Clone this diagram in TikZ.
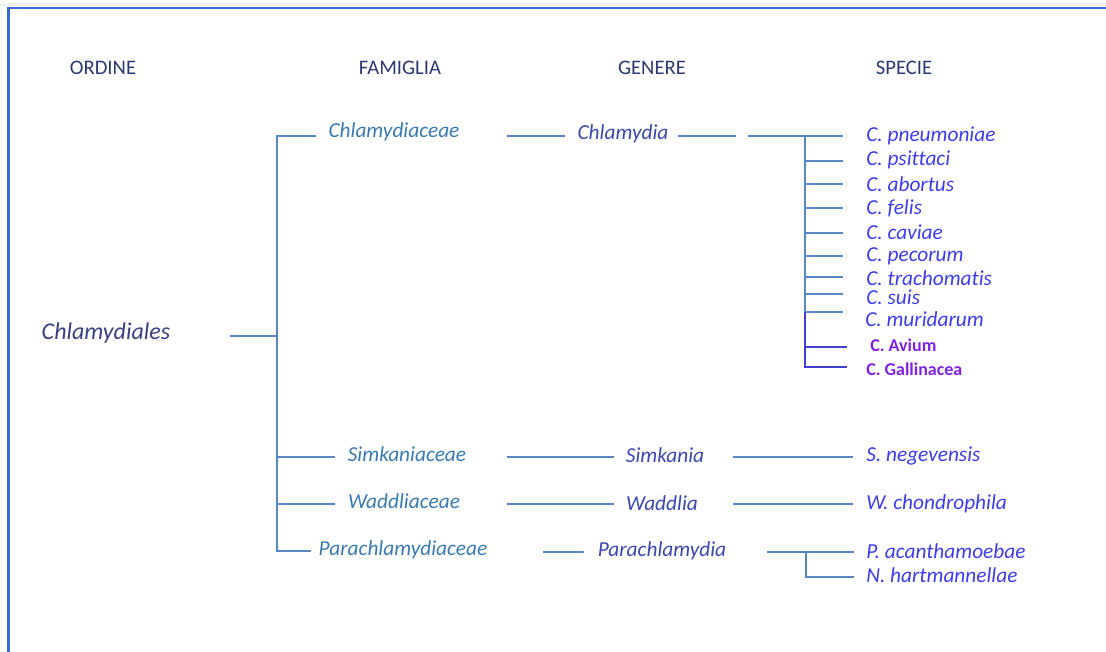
\documentclass[tikz,border=0pt]{standalone}
\usepackage{fontspec}
\setmainfont[Ligatures=NoCommon]{Carlito}
\definecolor{hdr}{HTML}{2E3872}
\definecolor{ordc}{HTML}{3A4080}
\definecolor{famc}{HTML}{3A7AB2}
\definecolor{genc}{HTML}{3A48B0}
\definecolor{spc}{HTML}{3C3CF2}
\definecolor{purc}{HTML}{8020E6}
\definecolor{linec}{HTML}{5A87C0}
\definecolor{bluel}{HTML}{4040D0}
\definecolor{framec}{HTML}{3A6AD8}
\tikzset{
  hdrtext/.style={text=hdr, font=\fontsize{15.5}{17}\selectfont, inner sep=0pt},
  ordtext/.style={text=ordc, font=\fontsize{18}{20}\selectfont\itshape, inner sep=0pt},
  famtext/.style={text=famc, font=\fontsize{16}{18}\selectfont\itshape, inner sep=0pt},
  gentext/.style={text=genc, font=\fontsize{16}{18}\selectfont\itshape, inner sep=0pt},
  sptext/.style={text=spc, font=\fontsize{16}{18}\selectfont\itshape, anchor=west, inner sep=0pt},
  purtext/.style={text=purc, font=\fontsize{13.5}{15}\selectfont\bfseries, anchor=west, inner sep=0pt},
  conn/.style={draw=linec, line width=1.4pt},
  connb/.style={draw=bluel, line width=1.1pt},
}
\begin{document}
\begin{tikzpicture}[x=0.75pt,y=-0.75pt]
\useasboundingbox (0,0) rectangle (1106,652);
% frame
\fill[gray!12] (0,3) rectangle (1106,6.5);
\draw[framec, line width=1.6pt] (8.5,652) -- (8.5,8) -- (1106,8);
% headers
\node[hdrtext] (hOrd) at (103,68) {ORDINE};
\node[hdrtext] (hFam) at (400,68) {FAMIGLIA};
\node[hdrtext] (hGen) at (652,68) {GENERE};
\node[hdrtext] (hSpe) at (904,68) {SPECIE};
% order
\node[ordtext] (ord) at (106,333) {Chlamydiales};
% families
\node[famtext] (f1) at (394,132) {Chlamydiaceae};
\node[famtext] (f2) at (407,454) {Simkaniaceae};
\node[famtext] (f3) at (404,501) {Waddliaceae};
\node[famtext] (f4) at (403,550) {Parachlamydiaceae};
% genera
\node[gentext] (g1) at (623,134) {Chlamydia};
\node[gentext] (g2) at (665,455) {Simkania};
\node[gentext] (g3) at (662,503) {Waddlia};
\node[gentext] (g4) at (662,551) {Parachlamydia};
% species
\node[sptext] (s1) at (866,136) {C. pneumoniae};
\node[sptext] (s2) at (866,160) {C. psittaci};
\node[sptext] (s3) at (866,184) {C. abortus};
\node[sptext] (s4) at (866,208) {C. felis};
\node[sptext] (s5) at (866,232) {C. caviae};
\node[sptext] (s6) at (866,256) {C. pecorum};
\node[sptext] (s7) at (866,278) {C. trachomatis};
\node[sptext] (s8) at (866,297) {C. suis};
\node[sptext] (s9) at (865,319) {C. muridarum};
\node[purtext] (s10) at (870,345) {C. Avium};
\node[purtext] (s11) at (866,369) {C. Gallinacea};
\node[sptext] (s12) at (866,456) {S. negevensis};
\node[sptext] (s13) at (866,504) {W. chondrophila};
\node[sptext] (s14) at (866,551) {P. acanthamoebae};
\node[sptext] (s15) at (866,575) {N. hartmannellae};
% order -> families
\coordinate (oEnd) at (230,336);
\coordinate (tr) at (277,336);
\coordinate (tTop) at (277,136);
\coordinate (tBot) at (277,551);
\coordinate (b1) at (316,136);
\coordinate (b2a) at (277,457); \coordinate (b2) at (335,457);
\coordinate (b3a) at (277,504); \coordinate (b3) at (335,504);
\coordinate (b4) at (311,551);
\draw[conn] (oEnd) -- (tr);
\draw[conn] (b1) -- (tTop) -- (tBot) -- (b4);
\draw[conn] (b2a) -- (b2);
\draw[conn] (b3a) -- (b3);
% family -> genus
\coordinate (c1a) at (507,136); \coordinate (c1b) at (565,136);
\coordinate (c2a) at (507,457); \coordinate (c2b) at (614,457);
\coordinate (c3a) at (507,504); \coordinate (c3b) at (614,504);
\coordinate (c4a) at (543,552); \coordinate (c4b) at (584,552);
\draw[conn] (c1a) -- (c1b);
\draw[conn] (c2a) -- (c2b);
\draw[conn] (c3a) -- (c3b);
\draw[conn] (c4a) -- (c4b);
% genus -> species
\coordinate (d1a) at (678,136); \coordinate (d1b) at (736,136);
\coordinate (e1a) at (748,136); \coordinate (sx) at (805,136);
\coordinate (sxm) at (805,312); \coordinate (sxb) at (805,367);
\draw[conn] (d1a) -- (d1b);
\draw[conn] (e1a) -- (843,136);
\draw[conn] (sx) -- (sxm);
\foreach \yy in {161,184,208,233,256,277,294,312} \draw[conn] (805,\yy) -- (843,\yy);
\draw[connb] (sxm) -- (sxb) -- (847,367);
\draw[connb] (805,347) -- (847,347);
\coordinate (d2a) at (733,457); \coordinate (d2b) at (853,457);
\coordinate (d3a) at (733,504); \coordinate (d3b) at (853,504);
\draw[conn] (d2a) -- (d2b);
\draw[conn] (d3a) -- (d3b);
\coordinate (d4a) at (767,552); \coordinate (d4b) at (854,552);
\coordinate (d4j) at (806,552); \coordinate (d4c) at (806,577); \coordinate (d4d) at (854,577);
\draw[conn] (d4a) -- (d4b);
\draw[conn] (d4j) -- (d4c) -- (d4d);
\end{tikzpicture}
\end{document}
